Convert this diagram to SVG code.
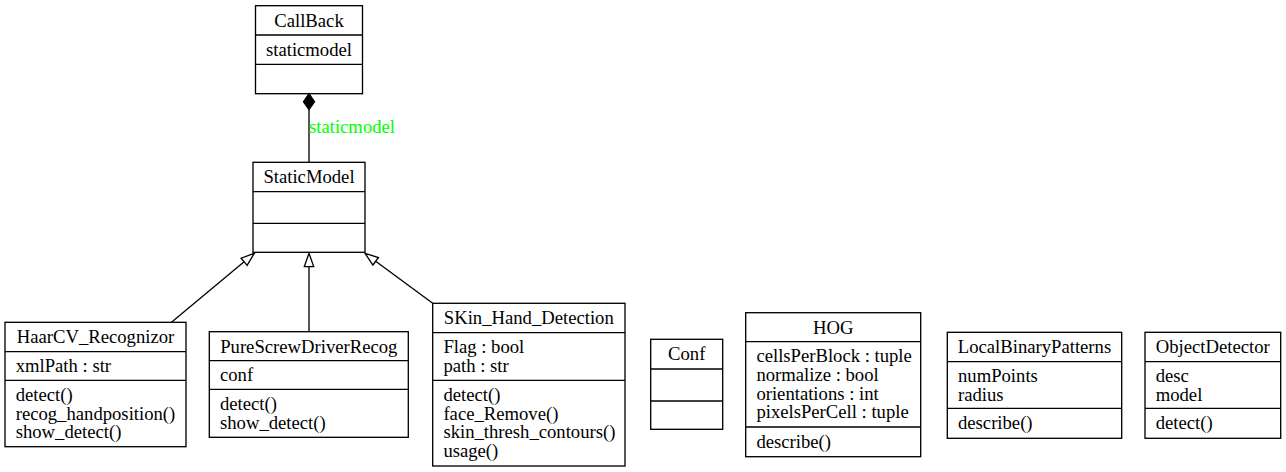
<svg xmlns="http://www.w3.org/2000/svg" width="1286" height="472" viewBox="0 0 1286 472">
<style>
.box{fill:none;stroke:#000;stroke-width:1.33}
.ln{stroke:#000;stroke-width:1.33;fill:none}
text{font-family:"Liberation Serif","Times New Roman",serif;font-size:18.67px;fill:#000}
.t{text-anchor:middle}
.lbl{fill:#00ff00}
.inh{fill:#fff;stroke:#000;stroke-width:1.33}
.dia{fill:#000;stroke:#000;stroke-width:1.33}
</style>
<rect width="1286" height="472" fill="#fff"/>
<g id="edges">
<path class="ln" d="M309,109.7 L309,162.3"/>
<polygon class="dia" points="309,93.7 314.5,101.7 309,109.7 303.5,101.7"/>
<text class="lbl" x="309" y="133">staticmodel</text>
<path class="ln" d="M171.5,322.3 L244.1,261.8"/>
<polygon class="inh" points="254.3,253.3 247.1,265.4 241.1,258.2"/>
<path class="ln" d="M309,331.7 L309,266.6"/>
<polygon class="inh" points="309,253.3 313.7,266.6 304.3,266.6"/>
<path class="ln" d="M432.7,303.3 L375.7,261.2"/>
<polygon class="inh" points="365,253.3 378.5,257.5 372.9,265"/>
</g>
<g id="CallBack">
<rect class="box" x="255.5" y="5.7" width="107" height="88"/>
<path class="ln" d="M255.5,35 H362.5 M255.5,64.3 H362.5"/>
<text class="t" x="309" y="26.7">CallBack</text>
<text class="t" x="309" y="55.5">staticmodel</text>
</g>
<g id="StaticModel">
<rect class="box" x="253" y="162.3" width="112" height="90"/>
<path class="ln" d="M253,191.7 H365 M253,223.3 H365"/>
<text class="t" x="309" y="183.3">StaticModel</text>
</g>
<g id="HaarCV_Recognizor">
<rect class="box" x="5" y="322.3" width="181" height="124.4"/>
<path class="ln" d="M5,351.7 H186 M5,380.3 H186"/>
<text class="t" x="95.5" y="343.3">HaarCV_Recognizor</text>
<text x="15.7" y="372.2">xmlPath : str</text>
<text x="15.7" y="400.8">detect()</text>
<text x="15.7" y="419.5">recog_handposition()</text>
<text x="15.7" y="438.1">show_detect()</text>
</g>
<g id="PureScrewDriverRecog">
<rect class="box" x="209.3" y="331.7" width="199" height="105.6"/>
<path class="ln" d="M209.3,360.7 H408.3 M209.3,389.3 H408.3"/>
<text class="t" x="308.8" y="352.7">PureScrewDriverRecog</text>
<text x="220" y="381.2">conf</text>
<text x="220" y="409.8">detect()</text>
<text x="220" y="428.5">show_detect()</text>
</g>
<g id="SKin_Hand_Detection">
<rect class="box" x="432.7" y="303.3" width="192.3" height="162.7"/>
<path class="ln" d="M432.7,332.7 H625 M432.7,380.3 H625"/>
<text class="t" x="528.8" y="324.3">SKin_Hand_Detection</text>
<text x="443.4" y="353.2">Flag : bool</text>
<text x="443.4" y="371.9">path : str</text>
<text x="443.4" y="400.8">detect()</text>
<text x="443.4" y="419.5">face_Remove()</text>
<text x="443.4" y="438.1">skin_thresh_contours()</text>
<text x="443.4" y="456.8">usage()</text>
</g>
<g id="Conf">
<rect class="box" x="650.7" y="339.3" width="72" height="90"/>
<path class="ln" d="M650.7,369 H722.7 M650.7,401 H722.7"/>
<text class="t" x="686.7" y="360.3">Conf</text>
</g>
<g id="HOG">
<rect class="box" x="745.7" y="312.7" width="175" height="144"/>
<path class="ln" d="M745.7,341.7 H920.7 M745.7,427 H920.7"/>
<text class="t" x="833.2" y="333.7">HOG</text>
<text x="756.4" y="362.2">cellsPerBlock : tuple</text>
<text x="756.4" y="380.9">normalize : bool</text>
<text x="756.4" y="399.5">orientations : int</text>
<text x="756.4" y="418.2">pixelsPerCell : tuple</text>
<text x="756.4" y="447.5">describe()</text>
</g>
<g id="LocalBinaryPatterns">
<rect class="box" x="947.3" y="332.3" width="174.4" height="106"/>
<path class="ln" d="M947.3,361.7 H1121.7 M947.3,408.3 H1121.7"/>
<text class="t" x="1034.5" y="353.3">LocalBinaryPatterns</text>
<text x="958" y="382.2">numPoints</text>
<text x="958" y="400.9">radius</text>
<text x="958" y="428.8">describe()</text>
</g>
<g id="ObjectDetector">
<rect class="box" x="1145" y="332.3" width="135.7" height="106"/>
<path class="ln" d="M1145,361.7 H1280.7 M1145,408.3 H1280.7"/>
<text class="t" x="1212.8" y="353.3">ObjectDetector</text>
<text x="1155.7" y="382.2">desc</text>
<text x="1155.7" y="400.9">model</text>
<text x="1155.7" y="428.8">detect()</text>
</g>
</svg>
